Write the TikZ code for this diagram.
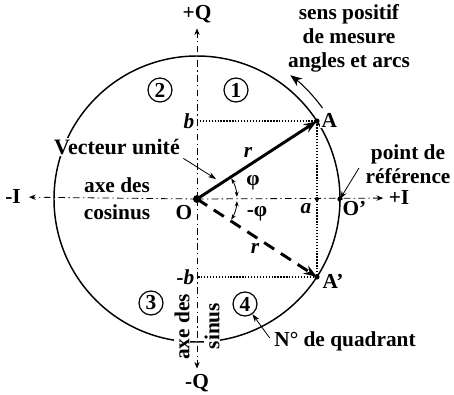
\documentclass[tikz,border=0pt]{standalone}
\usepackage{fontspec}
\setmainfont{Liberation Serif}
\usetikzlibrary{arrows.meta,positioning,calc}

\begin{document}
\begin{tikzpicture}[
  x=0.75pt, y=0.75pt,
  font=\fontsize{16}{18}\selectfont\bfseries,
  axis/.style={line width=0.6pt, dash pattern=on 5pt off 2.5pt on 1pt off 2.5pt,
               -{Stealth[length=5pt,width=4pt]}},
  guide/.style={line width=1pt, dash pattern=on 1pt off 1.2pt},
  vec/.style={line width=2.2pt, -{Stealth[length=10pt,width=7pt]}},
  quad/.style={circle, draw, line width=0.9pt, minimum size=18pt, inner sep=0pt},
  dot/.style={circle, fill, inner sep=0pt, minimum size=4pt},
  lbl/.style={inner sep=1pt, fill=white},
  ital/.style={font=\fontsize{16}{18}\selectfont\bfseries\itshape},
  ptr/.style={-{Stealth[length=6pt,width=4pt]}, line width=0.6pt},
  ang/.style={{Stealth[length=4pt,width=3pt]}-{Stealth[length=4pt,width=3pt]}, line width=0.6pt}
]
\useasboundingbox (0,0) rectangle (454,394);

% points
\coordinate (O) at (197,195);
\coordinate (A) at ($(O)+(33:143)$);
\coordinate (Ap) at ($(O)+(-33:143)$);
\coordinate (Op) at ($(O)+(143,0)$);
\coordinate (a) at (O -| A);
\coordinate (b) at (O |- A);
\coordinate (mb) at (O |- Ap);

\draw[line width=1.1pt] (O) circle[radius=143];

% axes
\node[inner sep=1pt] (mI) at (13,197) {-I};
\node[inner sep=1pt] (pI) at (399,196) {+I};
\node[inner sep=1pt] (pQ) at (197,380) {+Q};
\node[inner sep=1pt] (mQ) at (197,11) {-Q};
\draw[axis, shorten >=5pt] (O) -- (mI);
\draw[axis, shorten >=3pt] (O) -- (pI);
\draw[axis, shorten >=3pt] (O) -- (pQ);
\draw[axis, shorten >=3pt] (O) -- (mQ);

% projections
\draw[guide] (b) -- (A) -- (Ap) -- (mb);

% vectors
\draw[vec] (O) -- (A);
\draw[vec, dash pattern=on 9pt off 6pt] (O) -- (Ap);
\draw[ang] ($(O)+(31:40)$) arc[start angle=31, end angle=3, radius=40];
\draw[ang] ($(O)+(-3:40)$) arc[start angle=-3, end angle=-31, radius=40];

\node[dot, minimum size=6pt] at (O) {};
\node[dot] at (A) {};
\node[dot] at (Ap) {};
\node[dot] at (Op) {};
\node[dot, minimum size=3pt] at (a) {};

% sens positif
\coordinate (arcS) at ($(O)+(36:155)$);
\draw[ptr, line width=0.8pt, -{Stealth[length=9pt,width=7pt]}] (arcS) arc[start angle=36, end angle=53, radius=155];
\node[align=center, inner sep=0pt] (sens) at (349,356) {sens positif\\de mesure\\angles et arcs};

% quadrants
\node[quad] (q1) at (236,304) {1};
\node[quad] (q2) at (160,304) {2};
\node[quad] (q3) at (151,91) {3};
\node[quad] (q4) at (245,90) {4};

% labels
\node[lbl] (Olbl) at (184,181) {O};
\node[lbl, anchor=north west] (Oplbl) at ($(Op)+(1,-1)$) {O'};
\node[lbl, anchor=west] (Albl) at ($(A)+(3,1)$) {A};
\node[lbl, anchor=west] (Aplbl) at ($(Ap)+(4,-5)$) {A'};
\node[lbl, ital] (alb) at (306,185) {a};
\node[lbl, ital, anchor=east] (blb) at ($(b)+(-1,0)$) {b};
\node[lbl, ital, anchor=east] (mblb) at ($(mb)+(-1,0)$) {-b};
\node[ital, inner sep=0pt] (r1) at (248,242) {r};
\node[ital, inner sep=0pt] (r2) at (255,146) {r};
\node[inner sep=0pt] (phi) at (253,211) {φ};
\node[inner sep=0pt] (mphi) at (257,180) {-φ};

\node[lbl, font=\fontsize{16.5}{18}\selectfont\bfseries] (vu) at (117,247) {Vecteur unité};
\coordinate (vuend) at (216,215);
\draw[ptr] (vu.south east) ++(2,-2) coordinate (vus) -- (vuend);

\node[inner sep=1pt] (cos1) at (117,209) {axe des};
\node[inner sep=1pt] (cos2) at (117,182) {cosinus};

\node[align=center, inner sep=0pt] (ref) at (408,230) {point de\\référence};
\coordinate (refs) at (359,226);
\draw[ptr] (refs) -- (Op);

\node[lbl, rotate=90, inner sep=0pt] (sin1) at (182,67) {axe des};
\node[lbl, rotate=90, inner sep=0pt] (sin2) at (212,68) {sinus};

\node[inner sep=1pt] (nq) at (345,53) {N° de quadrant};
\draw[ptr] (nq.west) ++(-3,3) coordinate (nqs) -- (q4);
\end{tikzpicture}
\end{document}
